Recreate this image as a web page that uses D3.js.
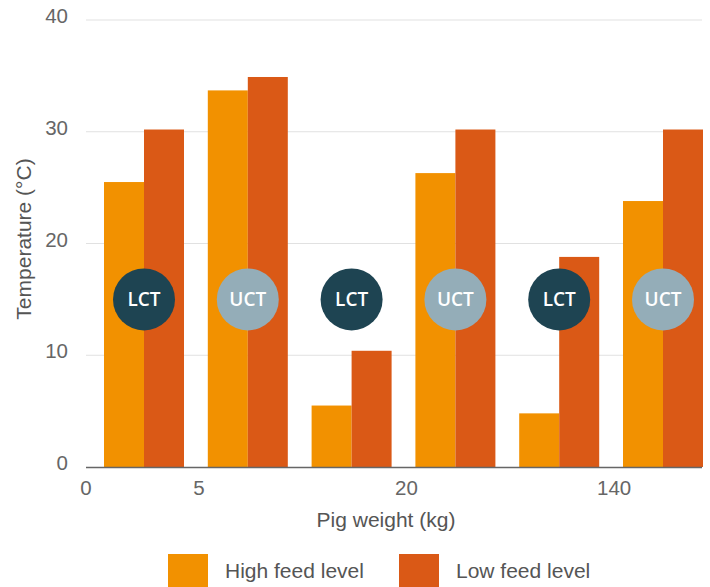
<!DOCTYPE html>
<html>
<head>
<meta charset="utf-8">
<script src="https://cdn.jsdelivr.net/npm/d3@7"></script>
<style>
  html, body { margin: 0; padding: 0; background: #fff; }
  svg { display: block; }
</style>
</head>
<body>
<svg id="chart" width="710" height="587"></svg>
<script>
// Six weight/threshold groups, each with a high- and low-feed bar
const groups = ["g1", "g2", "g3", "g4", "g5", "g6"];
const highFeed = [25.5, 33.7, 5.5, 26.3, 4.8, 23.8];
const lowFeed = [30.2, 34.9, 10.4, 30.2, 18.8, 30.2];
const thresholdLabels = ["LCT", "UCT", "LCT", "UCT", "LCT", "UCT"];
const thresholdLevel = [15, 15, 15, 15, 15, 15];
// weight ticks sit on the boundaries before these group indices
const weightTicks = ["0", "5", "20", "140"];
const weightTickSlots = [0, 1, 3, 5];
const yTicks = [0, 10, 20, 30, 40];
const seriesNames = ["High feed level", "Low feed level"];

const colors = { high: "#f29100", low: "#da5916", lct: "#1e4452", uct: "#94adb8" };
const font = "'Liberation Sans', Arial, Helvetica, sans-serif";

const svg = d3.select("#chart");
const plotLeft = 86, plotRight = 702, plotTop = 20, plotBottom = 467;

const y = d3.scaleLinear().domain([0, 40]).range([plotBottom, plotTop]);
const x = d3.scaleBand().domain(groups).range([104, 703]).paddingInner(0.2293).paddingOuter(0);
const sub = d3.scaleBand().domain(["high", "low"]).range([0, x.bandwidth()]);

// horizontal gridlines
svg.append("g").selectAll("line").data(yTicks.filter(d => d > 0)).join("line")
  .attr("x1", plotLeft).attr("x2", plotRight)
  .attr("y1", d => y(d)).attr("y2", d => y(d))
  .attr("stroke", "#e1e1e1").attr("stroke-width", 1);

// y tick labels
svg.append("g").selectAll("text").data(yTicks).join("text")
  .attr("x", 68).attr("y", d => y(d) + 3)
  .attr("text-anchor", "end")
  .attr("font-family", font).attr("font-size", 20.5).attr("fill", "#666")
  .text(d => d);

// bars
const gBars = svg.append("g");
groups.forEach((g, i) => {
  [["high", highFeed[i]], ["low", lowFeed[i]]].forEach(([k, v]) => {
    gBars.append("rect")
      .attr("x", x(g) + sub(k))
      .attr("y", y(v))
      .attr("width", sub.bandwidth())
      .attr("height", y(0) - y(v))
      .attr("fill", colors[k]);
  });
});

// baseline
svg.append("line")
  .attr("x1", plotLeft).attr("x2", plotRight)
  .attr("y1", y(0) + 0.5).attr("y2", y(0) + 0.5)
  .attr("stroke", "#666").attr("stroke-width", 1.5);

// threshold badges
const badges = svg.append("g").selectAll("g").data(groups).join("g")
  .attr("transform", (g, i) => `translate(${x(g) + x.bandwidth() / 2},${y(thresholdLevel[i])})`);
badges.append("circle").attr("r", 31)
  .attr("fill", (g, i) => thresholdLabels[i] === "LCT" ? colors.lct : colors.uct);
badges.append("text")
  .attr("text-anchor", "middle").attr("dy", "0.36em")
  .attr("font-family", "'Open Sans', sans-serif").attr("font-weight", 600)
  .attr("font-size", 19).attr("fill", "#fff")
  .text((g, i) => thresholdLabels[i]);

// weight tick labels between groups
const tickX = s => s === 0 ? plotLeft
  : (x(groups[s - 1]) + x.bandwidth() + x(groups[s])) / 2;
svg.append("g").selectAll("text").data(weightTicks).join("text")
  .attr("x", (d, i) => tickX(weightTickSlots[i]) + (i === 0 ? 0 : 3))
  .attr("y", 495)
  .attr("text-anchor", "middle")
  .attr("font-family", font).attr("font-size", 20.5).attr("fill", "#666")
  .text(d => d);

// axis titles
svg.append("text")
  .attr("x", 386).attr("y", 527)
  .attr("text-anchor", "middle")
  .attr("font-family", font).attr("font-size", 21).attr("fill", "#555")
  .text("Pig weight (kg)");
svg.append("text")
  .attr("transform", `translate(31,${(158 + 320) / 2}) rotate(-90)`)
  .attr("text-anchor", "middle")
  .attr("font-family", font).attr("font-size", 21).attr("fill", "#555")
  .text("Temperature (°C)");

// legend
const legend = svg.append("g");
const legendX = [168, 399];
seriesNames.forEach((name, i) => {
  legend.append("rect")
    .attr("x", legendX[i]).attr("y", 554)
    .attr("width", 40).attr("height", 40)
    .attr("fill", i === 0 ? colors.high : colors.low);
  legend.append("text")
    .attr("x", legendX[i] + 57).attr("y", 578)
    .attr("font-family", font).attr("font-size", 21).attr("fill", "#555")
    .text(name);
});
</script>
</body>
</html>
